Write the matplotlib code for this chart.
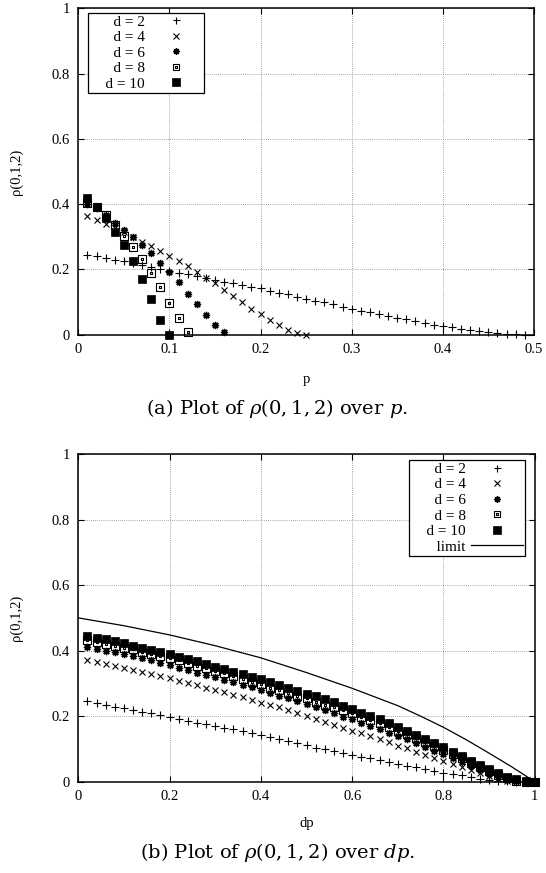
import numpy as np
import matplotlib
matplotlib.use("Agg")
import matplotlib.pyplot as plt
from matplotlib.path import Path
from matplotlib.ticker import FuncFormatter

plt.rcParams['font.family'] = ['Liberation Serif', 'DejaVu Serif']
plt.rcParams['mathtext.fontset'] = 'dejavuserif'

# (a) rho(0,1,2) over p
p_a = np.round(np.arange(1, 50) * 0.01, 2)
a_d2 = [0.245, 0.240, 0.235, 0.230, 0.225, 0.220, 0.214, 0.208, 0.202, 0.196,
        0.190, 0.185, 0.180, 0.173, 0.167, 0.162, 0.157, 0.152, 0.147, 0.142,
        0.135, 0.129, 0.123, 0.116, 0.110, 0.104, 0.099, 0.094, 0.086, 0.080,
        0.073, 0.068, 0.062, 0.057, 0.052, 0.047, 0.041, 0.036, 0.031, 0.027,
        0.022, 0.017, 0.014, 0.010, 0.007, 0.005, 0.003, 0.001, 0.000]
a_d4 = [0.365, 0.352, 0.340, 0.327, 0.313, 0.299, 0.285, 0.272, 0.257, 0.242,
        0.226, 0.210, 0.193, 0.175, 0.157, 0.138, 0.118, 0.099, 0.080, 0.062,
        0.045, 0.028, 0.014, 0.004, 0.000]
a_d6 = [0.400, 0.387, 0.366, 0.341, 0.320, 0.300, 0.276, 0.250, 0.221, 0.193,
        0.160, 0.126, 0.094, 0.060, 0.029, 0.007]
a_d8 = [0.403, 0.390, 0.366, 0.336, 0.303, 0.267, 0.231, 0.190, 0.145, 0.096,
        0.050, 0.009]
a_d10 = [0.420, 0.392, 0.356, 0.315, 0.274, 0.225, 0.169, 0.108, 0.045, 0.000]

# (b) rho(0,1,2) over dp
dp_b = np.round(np.arange(1, 51) * 0.02, 2)
b_d2 = [0.246, 0.239, 0.234, 0.229, 0.224, 0.219, 0.214, 0.209, 0.204, 0.197,
        0.190, 0.185, 0.180, 0.175, 0.170, 0.165, 0.160, 0.155, 0.148, 0.143,
        0.136, 0.129, 0.124, 0.119, 0.112, 0.104, 0.100, 0.094, 0.089, 0.082,
        0.076, 0.071, 0.066, 0.061, 0.054, 0.049, 0.044, 0.039, 0.034, 0.028,
        0.024, 0.019, 0.014, 0.009, 0.006, 0.003, 0.001, 0.000, 0.000, 0.000]
b_d4 = [0.370, 0.365, 0.359, 0.353, 0.348, 0.341, 0.336, 0.329, 0.323, 0.316,
        0.308, 0.302, 0.295, 0.287, 0.280, 0.273, 0.265, 0.257, 0.249, 0.241,
        0.234, 0.227, 0.219, 0.211, 0.201, 0.190, 0.182, 0.173, 0.165, 0.156,
        0.148, 0.140, 0.130, 0.120, 0.110, 0.102, 0.092, 0.082, 0.073, 0.064,
        0.054, 0.045, 0.035, 0.025, 0.016, 0.008, 0.002, 0.000, 0.000, 0.000]
b_d6 = [0.410, 0.404, 0.400, 0.395, 0.389, 0.384, 0.377, 0.370, 0.363, 0.356,
        0.348, 0.341, 0.333, 0.326, 0.319, 0.311, 0.303, 0.295, 0.288, 0.280,
        0.270, 0.262, 0.255, 0.246, 0.238, 0.227, 0.219, 0.209, 0.198, 0.190,
        0.180, 0.170, 0.160, 0.150, 0.140, 0.130, 0.119, 0.107, 0.095, 0.085,
        0.072, 0.060, 0.048, 0.036, 0.024, 0.013, 0.005, 0.001, 0.000, 0.000]
b_d8 = [0.431, 0.425, 0.420, 0.414, 0.409, 0.404, 0.397, 0.390, 0.384, 0.377,
        0.370, 0.361, 0.353, 0.346, 0.338, 0.331, 0.323, 0.314, 0.305, 0.297,
        0.287, 0.280, 0.272, 0.263, 0.254, 0.244, 0.234, 0.227, 0.219, 0.209,
        0.198, 0.188, 0.178, 0.166, 0.156, 0.145, 0.132, 0.122, 0.109, 0.098,
        0.084, 0.071, 0.058, 0.046, 0.032, 0.020, 0.010, 0.003, 0.000, 0.000]
b_d10 = [0.446, 0.440, 0.435, 0.428, 0.423, 0.415, 0.409, 0.402, 0.397, 0.390,
         0.382, 0.375, 0.367, 0.358, 0.351, 0.343, 0.336, 0.328, 0.321, 0.312,
         0.303, 0.295, 0.287, 0.278, 0.269, 0.260, 0.251, 0.243, 0.232, 0.222,
         0.211, 0.201, 0.190, 0.178, 0.166, 0.156, 0.142, 0.129, 0.117, 0.106,
         0.092, 0.078, 0.064, 0.051, 0.039, 0.025, 0.015, 0.007, 0.001, 0.000]
lim_x = [0.0, 0.1, 0.2, 0.3, 0.4, 0.5, 0.6, 0.7, 0.75, 0.8, 0.85, 0.9, 0.95, 1.0]
lim_y = [0.500, 0.476, 0.448, 0.415, 0.378, 0.333, 0.285, 0.232, 0.200, 0.166,
         0.128, 0.087, 0.045, 0.000]

labels = ['d = 2', 'd = 4', 'd = 6', 'd = 8', 'd = 10']

# gnuplot-like point types
box_dot = Path(
    [(-1, -1), (1, -1), (1, 1), (-1, 1), (-1, -1),
     (-0.15, -0.15), (0.15, -0.15), (0.15, 0.15), (-0.15, 0.15), (-0.15, -0.15)],
    [Path.MOVETO, Path.LINETO, Path.LINETO, Path.LINETO, Path.CLOSEPOLY,
     Path.MOVETO, Path.LINETO, Path.LINETO, Path.LINETO, Path.CLOSEPOLY])
styles = [
    dict(marker='+', ms=5.6, mew=0.8, color='black'),
    dict(marker='x', ms=4.4, mew=0.8, color='black'),
    dict(marker=(8, 2, 0), ms=5.2, mew=1.0, color='black'),
    dict(marker=box_dot, ms=5.5, mew=0.8, color='black', mfc='none'),
    dict(marker='s', ms=5.7, mew=0.5, color='black'),
]

fig = plt.figure(figsize=(5.46, 8.73), dpi=100)
ax1 = fig.add_axes([0.1434, 0.6167, 0.8345, 0.3738])
ax2 = fig.add_axes([0.1434, 0.1046, 0.8360, 0.3753])

fmt = FuncFormatter(lambda v, pos: '%g' % v)


def style_axes(ax, xmax, xstep):
    ax.set_xlim(0, xmax)
    ax.set_ylim(0, 1)
    ax.set_xticks(np.round(np.arange(0, xmax + 1e-9, xstep), 2))
    ax.set_yticks([0, 0.2, 0.4, 0.6, 0.8, 1])
    ax.xaxis.set_major_formatter(fmt)
    ax.yaxis.set_major_formatter(fmt)
    ax.tick_params(direction='in', length=4, width=0.8, top=True, right=True,
                   labelsize=10.5, pad=6)
    ax.grid(True, color='#888888', linestyle=(0, (1, 1.5)), linewidth=0.6)
    for s in ax.spines.values():
        s.set_linewidth(1.1)
    ax.set_ylabel('ρ(0,1,2)', fontsize=10.5, labelpad=21)


leg_kw = dict(frameon=True, fancybox=False, edgecolor='black', framealpha=1,
              markerfirst=False, fontsize=11, handlelength=3.4,
              handletextpad=0.35, borderpad=0.15, labelspacing=0.12,
              borderaxespad=0.0, markerscale=0.9)

# top
series_a = [a_d2, a_d4, a_d6, a_d8, a_d10]
for vals, lab, st in zip(series_a, labels, styles):
    ax1.plot(p_a[:len(vals)], vals, linestyle='none', label='    ' + lab,
             clip_on=False, **st)
style_axes(ax1, 0.5, 0.1)
ax1.set_xlabel('p', fontsize=10.5, labelpad=12)
leg1 = ax1.legend(loc='upper left', bbox_to_anchor=(0.021, 0.987), **leg_kw)
leg1.get_frame().set_linewidth(0.9)

# bottom
series_b = [b_d2, b_d4, b_d6, b_d8, b_d10]
for vals, lab, st in zip(series_b, labels, styles):
    ax2.plot(dp_b, vals, linestyle='none', label='    ' + lab, clip_on=False, **st)
ax2.plot(lim_x, lim_y, color='black', linewidth=0.9, label='    limit')
style_axes(ax2, 1.0, 0.2)
ax2.set_xlabel('dp', fontsize=10.5, labelpad=10)
leg2 = ax2.legend(loc='upper right', bbox_to_anchor=(0.979, 0.982), **leg_kw)
leg2.get_frame().set_linewidth(0.9)

cap_kw = dict(ha='center', va='center', fontsize=14, family=['DejaVu Serif'])
fig.text(0.508, 1 - 408 / 873, r'(a) Plot of $\rho(0,1,2)$ over $p$.', **cap_kw)
fig.text(0.508, 1 - 852 / 873, r'(b) Plot of $\rho(0,1,2)$ over $dp$.', **cap_kw)

fig.savefig('out.png', dpi=100)
